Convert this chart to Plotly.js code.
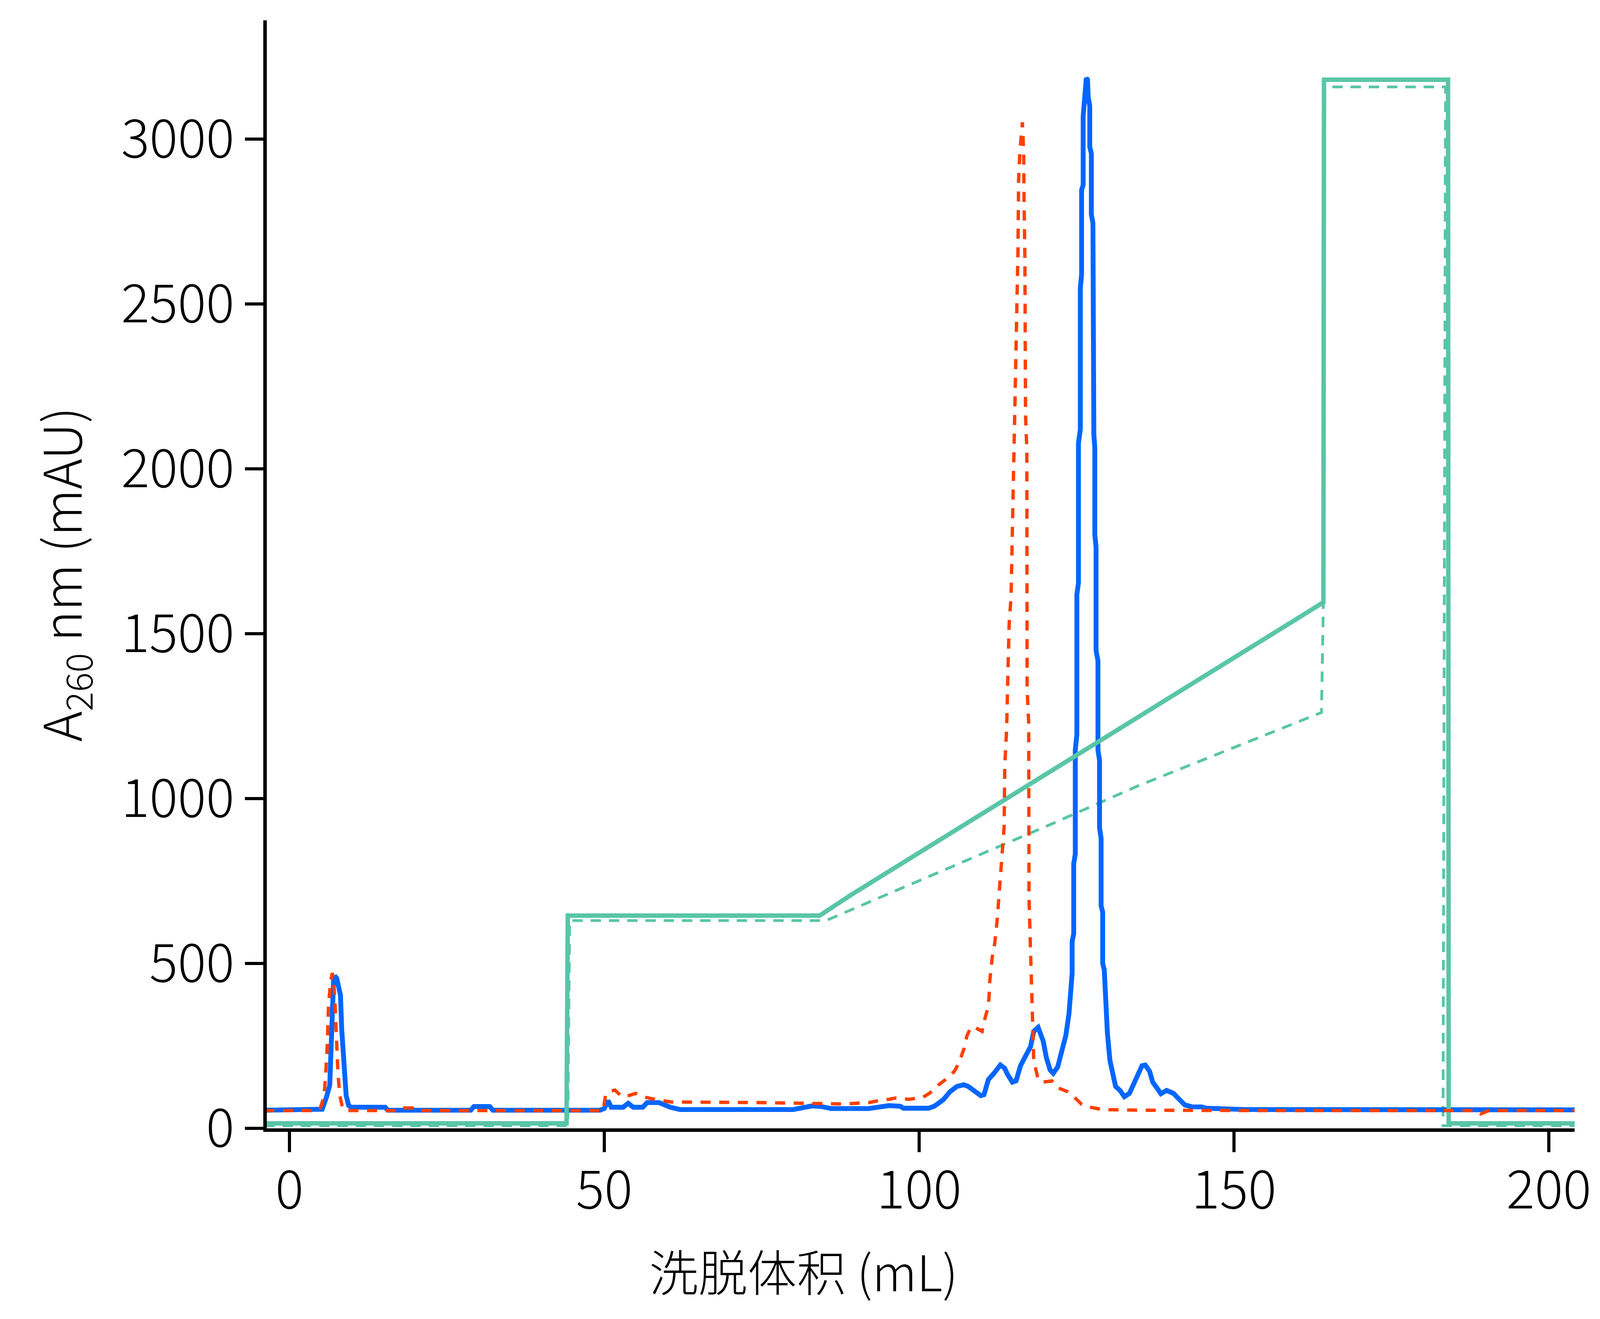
<!DOCTYPE html>
<html>
<head>
<meta charset="utf-8">
<script src="https://cdn.plot.ly/plotly-3.0.1.min.js"></script>
<style>
  html, body { margin: 0; padding: 0; overflow: hidden; background: #ffffff; }
  #elution { position: absolute; left: 0; top: 0; }
</style>
</head>
<body>
<div id="elution"></div>
<script>
// A260 trace, sample 1 (solid blue)
var blueX = [-4, 4.6, 5.2, 5.9, 6.4, 6.6, 6.8, 7.0, 7.2, 7.5, 7.8, 8.1, 8.3, 8.5, 8.75, 9.0, 9.4, 9.8,
    15.2, 15.6, 28.8, 29.3, 31.8, 32.3, 49.3, 50.0, 50.6, 51.1, 53.0, 53.8, 54.6, 56.1, 56.8, 58.7, 60.5,
    62, 80, 82, 83, 84.5, 86, 92, 93.5, 95.2, 97.0, 97.5, 101.5, 102.4, 103.8, 104.9, 106.0, 107.1, 107.8,
    108.9, 109.8, 110.3, 111.0, 111.8, 112.9, 113.6, 114.0, 114.8, 115.4, 116.1, 116.8, 117.7, 118.2,
    118.9, 119.7, 120.2, 120.8, 121.3, 122.0, 122.7, 123.3, 123.8, 124.15, 124.3, 124.3, 124.55, 124.55,
    124.8, 124.8, 125.05, 125.05, 125.3, 125.3, 125.6, 125.6, 125.8, 125.8, 126.05, 126.05, 126.2, 126.35,
    126.55, 126.75, 126.85, 127.1, 127.1, 127.35, 127.35, 127.6, 127.6, 127.75, 127.75, 127.9, 127.9,
    128.1, 128.1, 128.4, 128.4, 128.65, 128.65, 128.9, 128.9, 129.15, 129.15, 129.4, 129.6, 129.9, 130.3,
    130.7, 131.2, 131.9, 132.6, 133.4, 134.1, 134.8, 135.4, 135.9, 136.6, 137.1, 137.9, 138.4, 139.3,
    140.4, 141.1, 142.2, 143.4, 144.9, 145.6, 148.1, 151.6, 205];
var blueY = [55, 55, 58, 96, 131, 236, 362, 449, 462, 455, 430, 404, 300, 222, 146, 100, 69, 64,
    64, 55, 55, 66, 66, 55, 55, 60, 84, 64, 64, 76, 64, 64, 78, 78, 64,
    57, 57, 62, 68, 66, 60, 60, 64, 69, 67, 61, 61, 67, 86, 111, 127, 132, 127,
    111, 99, 102, 148, 165, 192, 182, 165, 140, 144, 190, 219, 248, 294,
    306, 265, 215, 177, 167, 186, 232, 282, 348, 420, 470, 566, 590, 802,
    832, 1147, 1194, 1618, 1654, 2077, 2120, 2549, 2589, 2845, 2861, 3069, 3100, 3160,
    3185, 3180, 3127, 3100, 2976, 2956, 2772, 2745, 2467, 2427, 2102, 2065, 1800,
    1763, 1449, 1418, 1147, 1116, 911, 880, 675, 656, 500, 481, 373, 289, 206,
    165, 127, 115, 96, 106, 140, 165, 190, 192, 173, 140, 119, 105, 115,
    106, 92, 71, 65, 65, 61, 59, 57, 56];

// A260 trace, sample 2 (dashed red)
var redX = [-4, 4.5, 4.9, 5.5, 5.8, 6.0, 6.2, 6.5, 6.8, 7.0, 7.2, 7.5, 7.7, 8.0, 8.4, 8.8,
    17.5, 18.2, 19.5, 20.2, 49.8, 50.2, 50.8, 51.7, 52.8, 54, 55, 55.7, 56.1, 57.5, 58.7, 60.5,
    75, 82, 88, 92, 94, 95.2, 96.3, 98.4, 100.6, 101.7, 103.1, 104.2, 105.6, 106.3, 107.1, 107.6,
    108.2, 108.7, 110.0, 110.3, 110.9, 111.1, 111.2, 111.6, 112.0, 112.4, 112.8, 113.1, 113.5, 113.6,
    113.9, 114.1, 114.3, 114.6, 114.8, 114.85, 115.1, 115.3, 115.5, 115.7, 115.8, 116.0, 116.4, 116.6,
    116.65, 116.8, 116.9, 117.1, 117.15, 117.4, 117.45, 117.6, 117.75, 117.9, 118.0, 118.2, 118.9,
    119.6, 121.1, 122.0, 123.6, 124.4, 125.8, 126.9, 129.1, 134.8, 151.6, 188.5, 189.2, 190.0, 190.5, 205];
var redY = [54, 54, 62, 96, 180, 250, 370, 440, 471, 450, 395, 258, 167, 99, 65, 54,
    54, 62, 62, 54, 54, 100, 112, 116, 96, 100, 106, 100, 96, 90, 85, 80,
    78, 75, 74, 78, 86, 88, 92, 88, 94, 107, 132, 148, 173, 198, 240, 281,
    306, 308, 294, 323, 364, 397, 443, 518, 560, 632, 732, 832, 915, 1097,
    1213, 1380, 1530, 1612, 1796, 1962, 2095, 2261, 2461, 2660, 2877, 2960, 3051, 2960,
    2841, 2627, 2161, 2062, 1330, 1230, 698, 598, 455, 373, 289, 206, 148,
    140, 144, 123, 111, 99, 73, 65, 57, 55, 54, 54, 44, 50, 54, 54];

// gradient / conductance profiles (green)
var gradX = [-4, 44.0, 44.2, 84.2, 89.2, 120.6, 134.7, 164.2, 164.3, 184.0, 184.1, 205];
var gradY = [15, 15, 645, 645, 708, 1079, 1249, 1595, 3180, 3180, 15, 15];

var grad2X = [-4, 44.2, 44.5, 85.2, 120.8, 134.7, 163.9, 164.2, 164.4, 183.6, 183.2, 205];
var grad2Y = [8, 8, 630, 630, 921, 1038, 1261, 1600, 3158, 3158, 8, 8];

var xTicks = [0, 50, 100, 150, 200];
var yTicks = [0, 500, 1000, 1500, 2000, 2500, 3000];

// layout numbers are for a 4501 x 3376 page; stretch them to fill the real window
var W = window.innerWidth || 4501;
var H = window.innerHeight || 3376;
var kx = W / 4501;
var ky = H / 3376;
var k = Math.sqrt(kx * ky);

var fontFamily = '"Noto Sans CJK SC", "Noto Sans", sans-serif';
var tickSize = 142 * k;
var titleSize = 142 * k;
var xTitleSize = 132 * k;

var grad2 = {
    type: 'scatter',
    x: grad2X,
    y: grad2Y,
    mode: 'lines',
    line: { color: '#59C5A7', width: 7.5 * k, dash: (28 * k) + 'px,' + (21 * k) + 'px' }
};

var blue = {
    type: 'scatter',
    x: blueX,
    y: blueY,
    mode: 'lines',
    line: { color: '#0066FF', width: 13 * k }
};

var grad = {
    type: 'scatter',
    x: gradX,
    y: gradY,
    mode: 'lines',
    line: { color: '#59C5A7', width: 12 * k }
};

var red = {
    type: 'scatter',
    x: redX,
    y: redY,
    mode: 'lines',
    line: { color: '#FF4000', width: 9 * k, dash: (27 * k) + 'px,' + (23 * k) + 'px' }
};

var data = [grad2, blue, grad, red];

var layout = {
    width: W,
    height: H,
    showlegend: false,
    paper_bgcolor: '#ffffff',
    plot_bgcolor: '#ffffff',
    margin: { l: 750 * kx, r: 71 * kx, t: 52 * ky, b: 488 * ky, pad: 0 },
    font: { family: fontFamily, size: tickSize, color: '#000000', weight: 300 },
    xaxis: {
        range: [-3.6, 204.1],
        tickvals: xTicks,
        ticktext: xTicks.map(String),
        ticks: 'outside',
        ticklen: 52 * ky,
        tickwidth: 9 * k,
        tickcolor: '#000000',
        ticklabelstandoff: Math.round(-18 * ky),
        showline: true,
        linewidth: 9 * k,
        linecolor: '#000000',
        showgrid: false,
        zeroline: false,
        tickfont: { family: fontFamily, size: tickSize, weight: 300 }
    },
    yaxis: {
        range: [0, 3360],
        tickvals: yTicks,
        ticktext: yTicks.map(String),
        ticks: 'outside',
        ticklen: 52 * kx,
        tickwidth: 9 * k,
        tickcolor: '#000000',
        showline: true,
        linewidth: 9 * k,
        linecolor: '#000000',
        showgrid: false,
        zeroline: false,
        tickfont: { family: fontFamily, size: tickSize, weight: 300 },
        title: {
            text: 'A<sub>260</sub> nm (mAU)',
            font: { family: fontFamily, size: titleSize * 0.98, weight: 300 },
            standoff: 65 * kx
        }
    },
    annotations: [{
        text: '洗脱体积 (mL)',
        xref: 'paper',
        yref: 'paper',
        x: 0.4104,
        y: -0.1278,
        xanchor: 'center',
        yanchor: 'middle',
        showarrow: false,
        font: { family: fontFamily, size: xTitleSize, weight: 300 }
    }]
};

Plotly.newPlot('elution', data, layout, { staticPlot: true });
</script>
</body>
</html>
